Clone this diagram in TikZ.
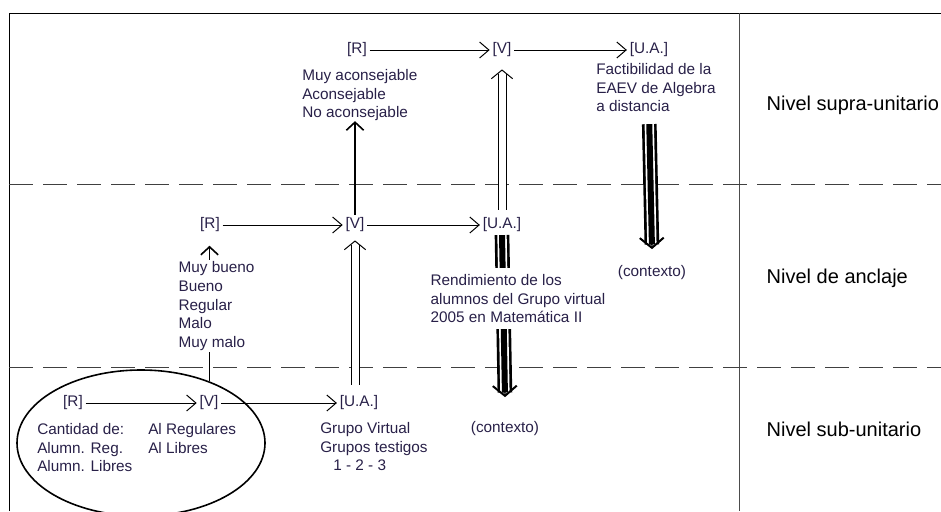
\documentclass[tikz,border=0pt]{standalone}
\usepackage{fontspec}
\setmainfont{Liberation Sans}
\usetikzlibrary{arrows.meta,positioning,shapes.geometric}
\definecolor{tinta}{RGB}{40,32,72}

\begin{document}
\begin{tikzpicture}[
    x=0.75pt, y=-0.75pt,
    every node/.style={font=\fontsize{11.5pt}{14pt}\selectfont, text=tinta},
    var/.style={inner sep=2pt},
    txt/.style={align=left, anchor=north west, inner sep=0pt},
    tapa/.style={txt, fill=white, inner xsep=1pt, inner ysep=4.5pt},
    nivel/.style={font=\fontsize{15pt}{18pt}\selectfont, text=black, anchor=base west},
    corte/.style={draw=black!75, line width=0.75pt, dash pattern=on 18pt off 7.5pt},
    flecha/.style={draw, line width=0.75pt, -{Straight Barb[length=7pt,width=12pt]}},
    sube/.style={draw, line width=1.4pt, -{Straight Barb[length=6pt,width=13pt,line width=1.2pt]}},
    hueca/.style={draw=black, line width=6.75pt, shorten >=3.5pt,
      postaction={draw=white, line width=5.25pt, shorten >=3.5pt},
      postaction={draw=white, line width=0.4pt, shorten >=0pt,
        -{Straight Barb[color=black, length=6.5pt, width=16pt, line width=0.75pt]}}},
    contexto/.style={draw=black, line width=11pt, shorten >=3.5pt,
      postaction={draw=white, line width=7pt, shorten >=3.5pt},
      postaction={draw=black, line width=4.5pt, shorten >=3.5pt},
      postaction={draw=black, line width=1pt, shorten >=0pt,
        -{Straight Barb[length=7.5pt, width=18pt, line width=1.5pt]}}},
]
\clip (0,0) rectangle (941,511);
% marco y niveles
\draw[line width=0.75pt] (9,511) -- (9,13) -- (941,13);
\draw[line width=0.75pt, black!70] (739,13) -- (739,511);
\draw[corte] (9,184) -- (941,184);
\draw[corte] (9,367) -- (941,367);

\node[nivel] (supra) at (762,110) {Nivel supra-unitario};
\node[nivel] (anclaje) at (762,283) {Nivel de anclaje};
\node[nivel] (sub) at (762,436) {Nivel sub-unitario};

% nivel supra-unitario
\node[var] (R1) at (357,50) {[R]};
\node[var] (V1) at (502,50) {[V]};
\node[var] (U1) at (649,50) {[U.A.]};
\node[txt] (escala1) at (302,69) {Muy aconsejable\\Aconsejable\\No aconsejable};
\node[txt] (factib) at (596,63) {Factibilidad de la\\EAEV de Algebra\\a distancia};
\node (ctx1) at (652,273) {(contexto)};

% nivel de anclaje
\node[var] (R2) at (210,225) {[R]};
\node[var] (V2) at (355,225) {[V]};
\node[var] (U2) at (502,225) {[U.A.]};
\node (ctx2) at (505,429) {(contexto)};

% nivel sub-unitario
\node[var] (R3) at (73,403) {[R]};
\node[var] (V3) at (209,403) {[V]};
\node[var] (U3) at (359,403) {[U.A.]};
\node[ellipse, draw, line width=1.2pt, minimum width=186pt, minimum height=109.5pt] (grupo) at (141,443) {};
\node[txt] (cantidad) at (37,423) {Cantidad de:\\Alumn. Reg.\\Alumn. Libres};
\node[txt] (alumnos) at (148,423) {Al Regulares\\Al Libres};
\node[txt] (grupos) at (320,422) {Grupo Virtual\\Grupos testigos\\\hspace*{9.75pt}1 - 2 - 3};

\draw[flecha] (R1) -- (V1);
\draw[flecha] (V1) -- (U1);
\draw[flecha] (R2) -- (V2);
\draw[flecha] (V2) -- (U2);
\draw[flecha] (R3) -- (V3);
\draw[flecha] (V3) -- (U3);

\draw[sube] (V2.north) -- (V2.north |- escala1.south);
\draw[sube, shorten >=8pt] (grupo.42.5) -- (grupo.42.5 |- R2.south);
\draw[hueca, shorten <=6pt] (V2.south |- U3.north) -- ([yshift=-4pt]V2.south);
\draw[hueca, shorten <=4pt] (U2.north) -- ([yshift=-7pt]V1.south);
\draw[contexto, shorten <=9pt] (U1 |- factib.south) -- ([yshift=9pt]ctx1.north);
\draw[contexto] (U2.south) -- ([yshift=15pt]ctx2.north);

% textos que tapan las flechas
\node[tapa, inner ysep=1pt] (escala2) at (177,260) {Muy bueno\\Bueno\\Regular\\Malo\\Muy malo};
\node[tapa] (rend) at (429,268) {Rendimiento de los\\alumnos del Grupo virtual\\2005 en Matemática II};
\end{tikzpicture}
\end{document}
